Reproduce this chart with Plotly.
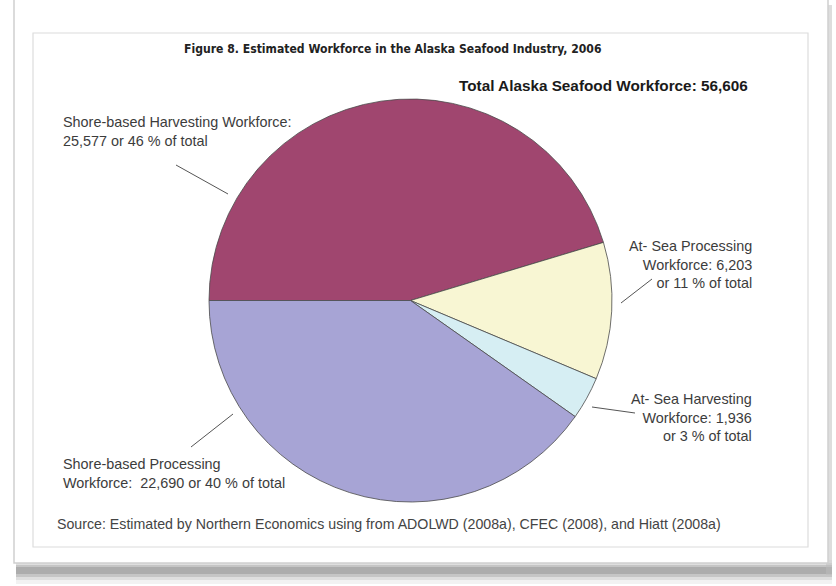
import plotly.graph_objects as go

W, H = 836, 586

categories = [
    "Shore-based Harvesting Workforce",
    "At- Sea Processing Workforce",
    "At- Sea Harvesting Workforce",
    "Shore-based Processing Workforce",
]
values = [25577, 6203, 1936, 22690]
colors = ["#A0466F", "#F8F6D3", "#D6EEF3", "#A7A4D5"]

label_texts = [
    "Shore-based Harvesting Workforce:<br>25,577 or 46 % of total",
    "At- Sea Processing<br>Workforce: 6,203<br>or 11 % of total",
    "At- Sea Harvesting<br>Workforce: 1,936<br>or 3 % of total",
    "Shore-based Processing<br>Workforce:  22,690 or 40 % of total",
]
title_text = "Figure 8. Estimated Workforce in the Alaska Seafood Industry, 2006"
total_text = "Total Alaska Seafood Workforce: 56,606"
source_text = ("Source: Estimated by Northern Economics using from ADOLWD (2008a), "
               "CFEC (2008), and Hiatt (2008a)")


def px(x):
    return x / W


def py(y):
    return 1 - y / H


fig = go.Figure()
fig.add_trace(go.Pie(
    labels=categories,
    values=values,
    sort=False,
    direction="clockwise",
    rotation=-90,
    marker=dict(colors=colors, line=dict(color="#4a4a4a", width=0.8)),
    textinfo="none",
    hoverinfo="label+value+percent",
    showlegend=False,
    domain=dict(x=[px(208), px(613)], y=[py(502), py(99)]),
))

shapes = []
# bottom shadow (paper curl)
for y0, y1, op in [(560, 584, 0.08), (563, 580, 0.12), (565, 577, 0.18), (567, 574, 0.22)]:
    shapes.append(dict(type="rect", xref="paper", yref="paper",
                       x0=px(16), x1=px(832), y0=py(y1), y1=py(y0),
                       fillcolor="#555555", opacity=op, line=dict(width=0), layer="below"))
# right side shadow
shapes.append(dict(type="rect", xref="paper", yref="paper",
                   x0=px(826), x1=px(832), y0=py(575), y1=py(5),
                   fillcolor="#bbbbbb", opacity=0.5, line=dict(width=0), layer="below"))
# card
shapes.append(dict(type="rect", xref="paper", yref="paper",
                   x0=px(14), x1=px(828), y0=py(563), y1=py(-5),
                   fillcolor="white", line=dict(color="#cfcfcf", width=1.5), layer="below"))
# inner border
shapes.append(dict(type="rect", xref="paper", yref="paper",
                   x0=px(33), x1=px(808), y0=py(547), y1=py(33),
                   fillcolor="rgba(0,0,0,0)", line=dict(color="#dcdcdc", width=1.2), layer="below"))
# leader lines
for (x0, y0, x1, y1) in [(176, 165, 228, 194), (621, 303, 652, 279),
                         (592, 407, 635, 413), (191, 447, 233, 414)]:
    shapes.append(dict(type="line", xref="paper", yref="paper",
                       x0=px(x0), y0=py(y0), x1=px(x1), y1=py(y1),
                       line=dict(color="#555555", width=1)))

lab_font = dict(family="Liberation Sans, Arial, sans-serif", size=14.4, color="#3c3c3c")
annotations = [
    dict(text="<b>" + title_text + "</b>", x=px(392), y=py(49), xanchor="center", yanchor="middle",
         font=dict(family="DejaVu Sans Condensed, Liberation Sans Narrow, Arial Narrow, sans-serif",
                   size=12.1, color="#222222"), showarrow=False),
    dict(text="<b>" + total_text + "</b>", x=px(750), y=py(86), xanchor="right", yanchor="middle",
         font=dict(family="Liberation Sans, Arial, sans-serif", size=15.3, color="#1a1a1a"),
         showarrow=False),
    dict(text=label_texts[0], x=px(61), y=py(131), xanchor="left", yanchor="middle",
         align="left", font=lab_font, showarrow=False),
    dict(text=label_texts[1], x=px(754), y=py(264), xanchor="right", yanchor="middle",
         align="right", font=lab_font, showarrow=False),
    dict(text=label_texts[2], x=px(754), y=py(417), xanchor="right", yanchor="middle",
         align="right", font=lab_font, showarrow=False),
    dict(text=label_texts[3], x=px(61), y=py(473), xanchor="left", yanchor="middle",
         align="left", font=lab_font, showarrow=False),
    dict(text=source_text, x=px(55), y=py(524), xanchor="left", yanchor="middle",
         align="left", font=dict(family="Liberation Sans, Arial, sans-serif", size=14.2, color="#444444"),
         showarrow=False),
]

fig.update_layout(
    width=W, height=H,
    margin=dict(l=0, r=0, t=0, b=0),
    paper_bgcolor="white",
    plot_bgcolor="white",
    shapes=shapes,
    annotations=annotations,
)

fig.write_html("out.html")
